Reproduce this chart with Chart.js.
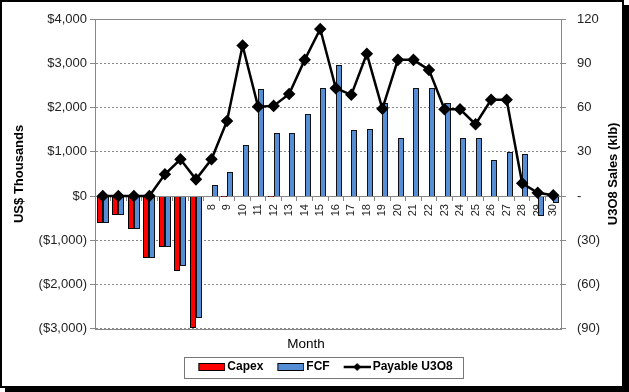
<!DOCTYPE html>
<html>
<head>
<meta charset="utf-8">
<script src="https://cdn.jsdelivr.net/npm/chart.js@4.4.0/dist/chart.umd.min.js"></script>
<style>
  html, body { margin: 0; padding: 0; background: #fff; }
  #frame { position: absolute; left: 0; top: 0; width: 620px; height: 384px; border: 2px solid #000; box-shadow: 5px 5px 0 #000; background: #fff; }
  #chart { position: absolute; left: 0; top: 0; }
</style>
</head>
<body>
<div id="frame"></div>
<canvas id="chart" width="629" height="392"></canvas>
<script>
// data
const months = ['1','2','3','4','5','6','7','8','9','10','11','12','13','14','15',
                '16','17','18','19','20','21','22','23','24','25','26','27','28','29','30'];
const capex = [-604, -430, -747, -1403, -1147, -1690, -2980, null, -10, null, null, -10, null, null, null,
               null, null, null, null, null, null, null, null, null, null, null, null, null, null, null];
const fcf = [-604, -430, -747, -1403, -1147, -1577, -2767, 249, 550, 1154, 2414, 1418, 1432, 1855, 2437,
             2964, 1493, 1508, 2097, 1320, 2437, 2437, 2111, 1305, 1305, 807, 988, 943, -452, -151];
const u3o8 = [0, 0, 0, 0, 14.7, 24.9, 11.3, 24.9, 50.9, 102, 60.6, 61.1, 69.2, 92.3, 113.2,
              73.1, 68.6, 96.4, 59.1, 92.3, 92.3, 85.5, 58.8, 58.8, 48.7, 65.2, 65.2, 8.6, 2.2, 0.5];

const yTickLabels = ['($3,000)', '($2,000)', '($1,000)', '$0', '$1,000', '$2,000', '$3,000', '$4,000'];
const y2TickLabels = ['(90)', '(60)', '(30)', '-', '30', '60', '90', '120'];

const leftTitle = 'US$ Thousands';
const rightTitle = 'U3O8 Sales (klb)';
const xTitle = 'Month';

Chart.defaults.font.family = '"Liberation Sans", Arial, sans-serif';

// legend swatches (Excel style: flat boxes and a line with a diamond)
function makeBox(fill) {
    const c = document.createElement('canvas');
    c.width = 38; c.height = 8;
    const g = c.getContext('2d');
    g.fillStyle = fill;
    g.fillRect(11.5, 0.5, 26, 7);
    g.strokeStyle = '#000';
    g.lineWidth = 1;
    g.strokeRect(11.5, 0.5, 26, 7);
    return c;
}
function makeLine() {
    const c = document.createElement('canvas');
    c.width = 38; c.height = 10;
    const g = c.getContext('2d');
    g.strokeStyle = '#000';
    g.lineWidth = 2.5;
    g.beginPath(); g.moveTo(11, 5); g.lineTo(38, 5); g.stroke();
    g.fillStyle = '#000';
    g.beginPath(); g.moveTo(24.5, 1); g.lineTo(28.5, 5); g.lineTo(24.5, 9); g.lineTo(20.5, 5); g.closePath(); g.fill();
    return c;
}
const swatches = [makeBox('#FF0000'), makeBox('#558ED5'), makeLine()];

const extras = {
    id: 'extras',
    // legend sits a little left of the plot centre in the original
    afterLayout(chart) {
        chart.legend.left -= 6;
        chart.legend.right -= 6;
    },
    // snap the bars the scale placed onto whole pixels so the thin outlines stay crisp
    afterDatasetsUpdate(chart) {
        chart.getSortedVisibleDatasetMetas().forEach(meta => {
            if (meta.type !== 'bar') return;
            meta.data.forEach(el => {
                const w = Math.round(el.width);
                const left = Math.round(el.x - el.width / 2);
                el.x = left + w / 2;
                el.width = w;
                el.y = Math.round(el.y);
                el.base = Math.round(el.base);
            });
        });
    },
    beforeDatasetsDraw(chart) {
        const { ctx, chartArea: a } = chart;
        const y0 = Math.round(chart.scales.y.getPixelForValue(0)) + 0.5;
        ctx.save();
        ctx.strokeStyle = '#888';
        ctx.lineWidth = 1;
        ctx.strokeRect(Math.round(a.left) + 0.5, Math.round(a.top) + 0.5, Math.round(a.width), Math.round(a.height));
        ctx.beginPath(); ctx.moveTo(a.left, y0); ctx.lineTo(a.right, y0); ctx.stroke();
        ctx.restore();
    },
    afterDraw(chart) {
        const { ctx, chartArea: a } = chart;
        ctx.save();
        // right axis title, reading upward like the left one
        ctx.translate(613, (a.top + a.bottom) / 2);
        ctx.rotate(-Math.PI / 2);
        ctx.font = 'bold 13px "Liberation Sans", Arial, sans-serif';
        ctx.textAlign = 'center';
        ctx.textBaseline = 'middle';
        ctx.fillStyle = '#000';
        ctx.fillText(rightTitle, 0, 0);
        ctx.restore();

        // box round the legend
        const hb = chart.legend.legendHitBoxes;
        if (hb && hb.length) {
            const first = hb[0], last = hb[hb.length - 1];
            const cy = first.top + first.height / 2;
            const l = Math.round(first.left - 7) + 0.5;
            const r = Math.round(last.left + last.width + 10) + 0.5;
            const t = Math.round(cy - 10.5) + 0.5;
            ctx.save();
            ctx.strokeStyle = '#777';
            ctx.lineWidth = 1;
            ctx.strokeRect(l, t, r - l, 21);
            ctx.restore();
        }
    }
};

new Chart(document.getElementById('chart'), {
    data: {
        labels: months,
        datasets: [
            {
                type: 'bar', label: 'Capex', data: capex, yAxisID: 'y', order: 1,
                backgroundColor: '#FF0000', borderColor: '#000', borderWidth: 1,
                categoryPercentage: 0.78, barPercentage: 1, inflateAmount: 0
            },
            {
                type: 'bar', label: 'FCF', data: fcf, yAxisID: 'y', order: 1,
                backgroundColor: '#558ED5', borderColor: '#111', borderWidth: 1,
                categoryPercentage: 0.78, barPercentage: 1, inflateAmount: 0
            },
            {
                type: 'line', label: 'Payable U3O8', data: u3o8, yAxisID: 'y2', order: 0,
                borderColor: '#000', borderWidth: 2.5, tension: 0,
                pointStyle: 'rectRot', pointRadius: 4.5, pointBackgroundColor: '#000', pointBorderColor: '#000'
            }
        ]
    },
    options: {
        responsive: false,
        animation: false,
        layout: { padding: { left: 0, right: 17, top: 19, bottom: 9 } },
        scales: {
            x: {
                position: { y: 0 },
                offset: true,
                z: 1,
                ticks: { minRotation: 90, maxRotation: 90, autoSkip: false, color: '#222', font: { size: 11 }, padding: 3 },
                grid: { drawOnChartArea: false, offset: true, tickLength: 5, color: '#888' },
                border: { display: false }
            },
            y: {
                position: 'left',
                min: -3000, max: 4000,
                ticks: { stepSize: 1000, color: '#222', font: { size: 13 }, padding: 3,
                         callback: (v, i) => yTickLabels[i] },
                grid: { color: '#888', tickColor: '#888', tickLength: 5 },
                border: { color: '#888', dash: [2, 2] },
                title: { display: true, text: leftTitle, color: '#000',
                         font: { size: 13, weight: 'bold' }, padding: { top: 12, bottom: 0 } },
                afterFit: s => { s.width = 95; }
            },
            y2: {
                position: 'right',
                min: -90, max: 120,
                ticks: { stepSize: 30, color: '#222', font: { size: 13 }, padding: 11,
                         callback: (v, i) => y2TickLabels[i] },
                grid: { drawOnChartArea: false, color: '#888', tickLength: 5 },
                border: { color: '#888' },
                afterFit: s => { s.width = 51; }
            }
        },
        plugins: {
            tooltip: { enabled: false },
            title: {
                display: true, text: xTitle, position: 'bottom', weight: 500,
                color: '#000', font: { size: 13.5, weight: 'normal' }, padding: { top: 7, bottom: 2 }
            },
            legend: {
                position: 'bottom', fullSize: false,
                labels: {
                    usePointStyle: true, pointStyleWidth: 30, boxHeight: 8, padding: 7,
                    color: '#000', font: { size: 12, weight: 'bold' },
                    generateLabels: chart => Chart.defaults.plugins.legend.labels.generateLabels(chart)
                        .sort((a, b) => a.datasetIndex - b.datasetIndex)
                        .map(it => Object.assign(it, { pointStyle: swatches[it.datasetIndex] }))
                }
            }
        }
    },
    plugins: [extras]
});
</script>
</body>
</html>
